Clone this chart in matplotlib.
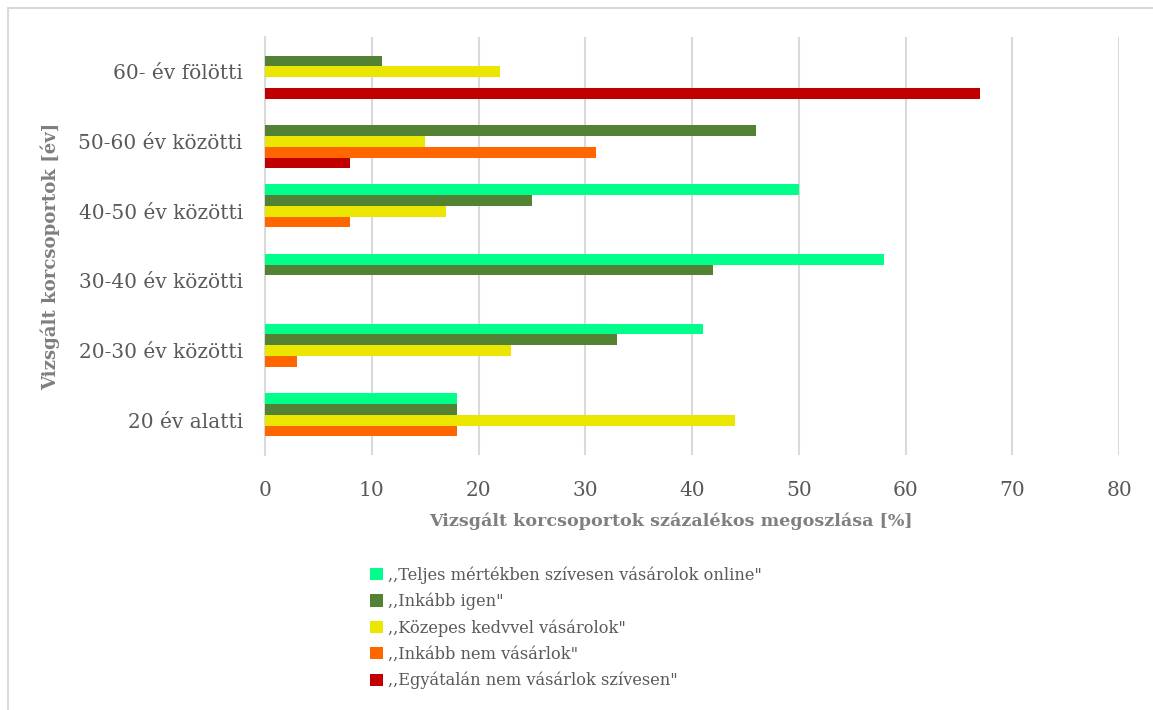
import matplotlib
matplotlib.use("Agg")
import matplotlib.pyplot as plt
import numpy as np
from matplotlib.patches import Rectangle, Patch

# age groups, bottom to top
groups = ['20 év alatti', '20-30 év közötti', '30-40 év közötti',
          '40-50 év közötti', '50-60 év közötti', '60- év fölötti']

labels = [',,Teljes mértékben szívesen vásárolok online"',
          ',,Inkább igen"',
          ',,Közepes kedvvel vásárolok"',
          ',,Inkább nem vásárlok"',
          ',,Egyátalán nem vásárlok szívesen"']

teljes = [18, 41, 58, 50, 0, 0]
inkabb_igen = [18, 33, 42, 25, 46, 11]
kozepes = [44, 23, 0, 17, 15, 22]
inkabb_nem = [18, 3, 0, 8, 31, 0]
egyaltalan = [0, 0, 0, 0, 8, 67]

series = [teljes, inkabb_igen, kozepes, inkabb_nem, egyaltalan]
colors = ['#00FF8A', '#548235', '#EBE600', '#FF6600', '#C00000']

txt = '#595959'
title_col = '#7F7F7F'
grid_col = '#D9D9D9'
plt.rcParams['font.family'] = ['DejaVu Serif']

W, H = 1153, 710
fig = plt.figure(figsize=(W / 100, H / 100), dpi=100)
ax = fig.add_axes([265 / W, 1 - 455 / H, (1119 - 265) / W, (455 - 37) / H])

y = np.arange(len(groups))
h = 0.154
for i, (vals, c) in enumerate(zip(series, colors)):
    ax.barh(y + (2 - i) * h, vals, height=h, color=c, label=labels[i], zorder=3)

ax.set_xlim(0, 80)
ax.set_ylim(-0.5, len(groups) - 0.5)
ax.set_xticks(range(0, 81, 10))
ax.set_yticks(y)
ax.set_yticklabels(groups)
ax.grid(axis='x', color=grid_col, linewidth=1.5, zorder=0)
for s in ['top', 'right', 'bottom']:
    ax.spines[s].set_visible(False)
ax.spines['left'].set_color(grid_col)
ax.spines['left'].set_linewidth(1.5)
ax.tick_params(axis='both', length=0, labelsize=14.5, labelcolor=txt)
ax.tick_params(axis='x', pad=19)
ax.tick_params(axis='y', pad=16)

ax.set_xlabel('Vizsgált korcsoportok százalékos megoszlása [%]', fontsize=12.6,
              fontweight='bold', color=title_col, va='center')
ax.xaxis.set_label_coords(671 / W, 1 - 521 / H, transform=fig.transFigure)
ax.set_ylabel('Vizsgált korcsoportok [év]', fontsize=13.1,
              fontweight='bold', color=title_col, va='center')
ax.yaxis.set_label_coords(50 / W, 1 - 256 / H, transform=fig.transFigure)

handles = [Patch(facecolor=c, edgecolor='none') for c in colors]
fig.legend(handles, labels, loc='upper left', bbox_to_anchor=(370 / W, 1 - 566 / H),
           frameon=False, fontsize=11.7, labelcolor=txt, handlelength=0.78,
           handleheight=0.78, handletextpad=0.3, labelspacing=0.56,
           borderaxespad=0, borderpad=0)

# outer chart border
fig.add_artist(Rectangle((7.5 / W, -0.1), 1.2, 1 - 8 / H + 0.1,
                         transform=fig.transFigure, fill=False,
                         edgecolor=grid_col, linewidth=1.5))

fig.savefig('out.png', dpi=100)
